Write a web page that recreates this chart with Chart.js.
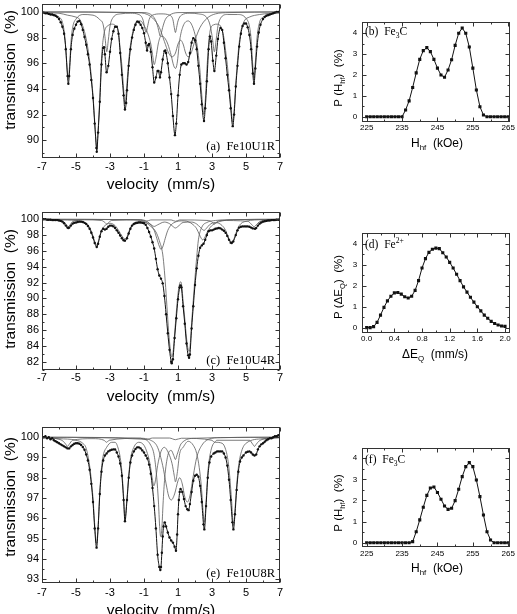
<!DOCTYPE html>
<html>
<head>
<meta charset="utf-8">
<script src="https://cdn.jsdelivr.net/npm/chart.js@4.4.1/dist/chart.umd.min.js"></script>
<style>
  body { margin: 0; background: #fff; width: 517px; height: 614px; position: relative; overflow: hidden; }
  canvas { position: absolute; }
</style>
</head>
<body>
<canvas id="specA" width="300" height="200" style="left:0;top:0"></canvas>
<canvas id="specC" width="300" height="210" style="left:0;top:200px"></canvas>
<canvas id="specE" width="300" height="214" style="left:0;top:400px"></canvas>
<canvas id="distB" width="217" height="200" style="left:300px;top:0"></canvas>
<canvas id="distD" width="217" height="200" style="left:300px;top:200px"></canvas>
<canvas id="distF" width="217" height="214" style="left:300px;top:400px"></canvas>
<script>
// ---- tick values / labels ----
const velTicks = [-7, -5, -3, -1, 1, 3, 5, 7];
const velLabels = ['-7', '-5', '-3', '-1', '1', '3', '5', '7'];
const velMinor = [-6, -4, -2, 0, 2, 4, 6];
const transTicksA = [90, 92, 94, 96, 98, 100];
const transMinorA = [89, 91, 93, 95, 97, 99];
const transTicksC = [82, 84, 86, 88, 90, 92, 94, 96, 98, 100];
const transMinorC = [81, 83, 85, 87, 89, 91, 93, 95, 97, 99];
const transTicksE = [93, 94, 95, 96, 97, 98, 99, 100];
const transMinorE = [93.5, 94.5, 95.5, 96.5, 97.5, 98.5, 99.5];
const fieldTicks = [225, 235, 245, 255, 265];
const fieldMinor = [230, 240, 250, 260];
const splitTicks = [0, 0.4, 0.8, 1.2, 1.6, 2.0];
const splitLabels = ['0.0', '0.4', '0.8', '1.2', '1.6', '2.0'];
const splitMinor = [0.2, 0.6, 1.0, 1.4, 1.8];
const probTicks = [0, 1, 2, 3, 4];
const probMinor = [0.5, 1.5, 2.5, 3.5];

// ---- (a) Fe10U1R : [velocity, transmission] ----
const envA = [[-7.0,100.0],[-6.9,99.95],[-6.8,99.9],[-6.7,99.9],[-6.6,99.85],[-6.5,99.8],[-6.4,99.8],[-6.3,99.75],[-6.2,99.7],[-6.1,99.6],[-6.0,99.45],[-5.9,99.2],[-5.8,98.85],[-5.7,98.3],[-5.6,97.1],[-5.5,95.0],[-5.45,94.4],[-5.4,95.0],[-5.3,97.1],[-5.2,98.2],[-5.1,98.7],[-5.0,99.0],[-4.9,99.25],[-4.8,99.3],[-4.7,99.05],[-4.6,98.6],[-4.5,98.05],[-4.4,97.45],[-4.3,96.7],[-4.2,95.9],[-4.1,94.7],[-4.0,93.3],[-3.9,91.3],[-3.8,89.4],[-3.78,89.1],[-3.7,90.6],[-3.6,93.0],[-3.5,95.9],[-3.4,97.2],[-3.35,97.25],[-3.3,96.7],[-3.2,95.3],[-3.1,95.8],[-3.0,96.9],[-2.9,97.9],[-2.8,98.5],[-2.7,98.85],[-2.6,98.85],[-2.5,98.3],[-2.4,96.8],[-2.3,95.1],[-2.2,93.5],[-2.12,92.4],[-2.05,92.9],[-2.0,93.9],[-1.9,95.8],[-1.8,97.1],[-1.7,98.0],[-1.6,98.6],[-1.5,99.0],[-1.4,99.25],[-1.3,99.2],[-1.2,99.0],[-1.1,98.75],[-1.0,98.35],[-0.9,97.6],[-0.82,97.0],[-0.75,97.4],[-0.7,97.5],[-0.6,96.9],[-0.5,95.7],[-0.4,94.5],[-0.3,94.9],[-0.2,95.4],[-0.15,95.4],[-0.06,94.9],[0.0,95.3],[0.1,96.3],[0.2,96.95],[0.25,97.0],[0.3,96.8],[0.4,96.0],[0.5,94.9],[0.6,93.6],[0.7,91.9],[0.82,90.4],[0.9,91.3],[1.0,93.5],[1.1,95.1],[1.2,95.9],[1.3,96.0],[1.4,96.0],[1.5,95.9],[1.6,96.1],[1.7,96.8],[1.8,97.6],[1.9,97.95],[2.0,97.8],[2.1,97.1],[2.2,95.8],[2.3,94.4],[2.4,92.8],[2.53,91.5],[2.6,92.5],[2.7,94.6],[2.8,97.1],[2.88,98.1],[2.95,97.7],[3.05,96.2],[3.14,95.4],[3.25,96.6],[3.35,97.9],[3.5,98.75],[3.6,98.6],[3.7,97.6],[3.8,96.4],[3.9,95.1],[4.0,93.9],[4.1,92.5],[4.22,91.1],[4.3,92.0],[4.4,94.2],[4.5,95.8],[4.6,97.3],[4.7,98.3],[4.8,98.9],[4.9,99.1],[5.0,99.1],[5.1,98.8],[5.2,98.2],[5.3,97.1],[5.4,95.2],[5.47,94.4],[5.55,95.6],[5.65,97.3],[5.75,98.4],[5.85,99.0],[6.0,99.45],[6.1,99.6],[6.2,99.7],[6.3,99.75],[6.4,99.8],[6.5,99.85],[6.6,99.9],[6.7,99.95],[6.8,100.0],[6.9,100.0],[7.0,100.05]];
const alphaA = [[-7,99.95],[-6.5,99.85],[-6.0,99.6],[-5.8,99.2],[-5.65,98.0],[-5.55,96.1],[-5.45,94.8],[-5.38,95.8],[-5.28,97.9],[-5.18,98.9],[-5.0,99.45],[-4.6,99.8],[-4.0,99.75],[-3.6,99.4],[-3.4,99.0],[-3.3,98.1],[-3.19,96.9],[-3.1,97.8],[-3.0,98.9],[-2.8,99.6],[-2.4,99.85],[-1.8,99.9],[-1.3,99.8],[-1.05,99.35],[-0.95,98.7],[-0.88,98.4],[-0.8,98.8],[-0.7,99.4],[-0.5,99.75],[0,99.85],[0.5,99.75],[0.7,99.4],[0.78,98.8],[0.85,98.4],[0.92,98.8],[1.0,99.3],[1.2,99.75],[1.7,99.9],[2.2,99.85],[2.7,99.55],[2.9,98.9],[3.03,97.9],[3.14,96.9],[3.25,97.9],[3.35,98.9],[3.5,99.5],[3.9,99.8],[4.5,99.8],[5.0,99.5],[5.2,98.9],[5.3,97.9],[5.4,95.8],[5.47,94.8],[5.55,96.1],[5.65,98.0],[5.8,99.2],[6.0,99.6],[6.5,99.85],[7,99.95]];
const fe3cA = [[-7,99.95],[-6.0,99.9],[-5.5,99.75],[-5.0,99.6],[-4.8,99.45],[-4.6,98.9],[-4.4,97.9],[-4.2,96.2],[-4.0,93.5],[-3.9,91.5],[-3.78,89.4],[-3.7,90.8],[-3.6,93.4],[-3.5,96.4],[-3.4,97.9],[-3.3,98.6],[-3.1,98.95],[-2.9,99.05],[-2.7,98.95],[-2.5,98.4],[-2.4,97.1],[-2.3,95.8],[-2.2,94.0],[-2.12,92.8],[-2.0,94.5],[-1.9,96.2],[-1.8,97.4],[-1.6,98.75],[-1.4,99.3],[-1.2,99.3],[-1.0,98.95],[-0.8,98.4],[-0.6,97.5],[-0.5,96.7],[-0.4,95.9],[-0.3,96.4],[-0.15,97.6],[0.0,98.1],[0.2,98.0],[0.4,97.5],[0.6,96.6],[0.75,95.8],[0.85,95.6],[0.95,96.0],[1.1,97.8],[1.3,98.9],[1.6,99.3],[1.9,98.7],[2.1,97.6],[2.2,96.6],[2.3,95.3],[2.4,93.5],[2.53,92.0],[2.6,93.0],[2.7,95.5],[2.8,97.5],[2.9,98.6],[3.1,99.0],[3.3,99.05],[3.5,98.9],[3.7,98.0],[3.8,97.0],[3.9,95.9],[4.0,94.5],[4.1,92.9],[4.22,91.4],[4.3,92.3],[4.4,94.4],[4.5,96.2],[4.6,97.6],[4.7,98.5],[4.9,99.3],[5.2,99.6],[5.8,99.8],[7,99.95]];
const doubletA = [[-7,100],[-1.5,99.95],[-0.8,99.8],[-0.4,99.4],[-0.1,98.8],[0.2,97.7],[0.45,96.8],[0.65,96.5],[0.85,96.8],[1.0,97.5],[1.15,97.8],[1.3,97.5],[1.45,96.8],[1.6,96.5],[1.8,96.9],[2.0,97.8],[2.3,98.8],[2.7,99.5],[3.2,99.85],[4,99.95],[7,100]];
const singletA = [[-7,100],[-1.0,99.95],[-0.5,99.7],[-0.3,99.3],[-0.18,98.8],[-0.1,98.35],[-0.05,98.1],[0.0,98.25],[0.1,98.8],[0.25,99.4],[0.5,99.75],[1.0,99.95],[7,100]];

// ---- (c) Fe10U4R ----
const envC = [[-7.0,100.0],[-6.9,100.0],[-6.8,100.0],[-6.7,99.95],[-6.6,99.95],[-6.5,99.95],[-6.4,99.9],[-6.3,99.9],[-6.2,99.9],[-6.1,99.9],[-6.0,99.85],[-5.9,99.8],[-5.8,99.7],[-5.7,99.5],[-5.6,99.2],[-5.5,98.95],[-5.45,98.9],[-5.4,98.95],[-5.3,99.2],[-5.2,99.45],[-5.1,99.55],[-5.0,99.6],[-4.9,99.65],[-4.8,99.7],[-4.7,99.7],[-4.6,99.65],[-4.5,99.55],[-4.4,99.4],[-4.3,99.15],[-4.2,98.8],[-4.1,98.3],[-4.0,97.7],[-3.9,97.0],[-3.78,96.5],[-3.7,96.9],[-3.6,97.8],[-3.5,98.5],[-3.4,98.8],[-3.3,98.7],[-3.2,98.8],[-3.1,99.05],[-3.0,99.2],[-2.9,99.2],[-2.8,99.1],[-2.7,98.9],[-2.6,98.6],[-2.5,98.3],[-2.4,97.95],[-2.3,97.6],[-2.2,97.35],[-2.12,97.3],[-2.0,97.6],[-1.9,98.2],[-1.8,98.8],[-1.7,99.2],[-1.6,99.4],[-1.5,99.5],[-1.4,99.55],[-1.3,99.6],[-1.2,99.6],[-1.1,99.55],[-1.0,99.5],[-0.9,99.3],[-0.8,98.9],[-0.7,98.4],[-0.6,97.8],[-0.5,97.1],[-0.4,96.3],[-0.3,95.0],[-0.2,93.7],[-0.1,92.9],[0.0,92.5],[0.1,91.9],[0.2,90.3],[0.3,88.0],[0.4,85.6],[0.5,83.5],[0.6,82.0],[0.63,81.8],[0.7,82.3],[0.8,85.0],[0.9,87.5],[1.0,89.9],[1.1,91.4],[1.15,91.65],[1.2,91.4],[1.3,89.0],[1.4,86.8],[1.5,84.3],[1.6,82.8],[1.65,82.5],[1.7,82.9],[1.8,86.2],[1.9,89.0],[2.0,91.7],[2.1,93.8],[2.2,95.4],[2.3,96.4],[2.4,96.7],[2.5,96.9],[2.6,97.4],[2.7,98.0],[2.8,98.5],[2.9,98.6],[3.0,98.6],[3.1,98.7],[3.2,98.8],[3.3,98.85],[3.4,98.9],[3.5,98.85],[3.6,98.7],[3.7,98.55],[3.8,98.3],[3.9,97.9],[4.0,97.4],[4.1,97.05],[4.16,97.0],[4.25,97.2],[4.4,98.0],[4.5,98.6],[4.6,98.95],[4.7,99.05],[4.8,99.1],[4.9,99.1],[5.0,99.1],[5.1,99.1],[5.2,99.05],[5.3,98.95],[5.4,98.85],[5.53,98.8],[5.6,98.9],[5.7,99.2],[5.8,99.45],[5.9,99.6],[6.0,99.7],[6.1,99.75],[6.2,99.8],[6.3,99.85],[6.4,99.85],[6.5,99.9],[6.6,99.9],[6.7,99.9],[6.8,99.95],[6.9,99.95],[7.0,99.95]];
const mainDoubletC = [[-7,100],[-2.0,99.95],[-1.2,99.85],[-0.9,99.6],[-0.6,99.1],[-0.3,98.4],[-0.1,97.3],[0.1,95.6],[0.2,93.5],[0.3,90.6],[0.4,87.3],[0.5,84.5],[0.6,82.8],[0.63,82.6],[0.7,83.0],[0.8,85.5],[0.9,88.2],[1.0,90.6],[1.1,91.9],[1.15,92.1],[1.2,91.9],[1.3,89.7],[1.4,87.4],[1.5,85.0],[1.6,83.5],[1.65,83.3],[1.7,83.7],[1.8,86.8],[1.9,89.8],[2.0,92.6],[2.1,95.2],[2.2,97.4],[2.4,99.0],[2.7,99.6],[3.2,99.85],[4.0,99.95],[7,100]];
const sideDoubletC = [[-7,100],[-1.2,99.95],[-0.8,99.7],[-0.6,99.3],[-0.4,98.6],[-0.25,97.6],[-0.1,96.6],[0.0,96.2],[0.1,96.5],[0.25,97.6],[0.4,98.6],[0.6,99.3],[0.9,99.7],[1.2,99.8],[1.6,99.7],[1.9,99.3],[2.1,98.8],[2.25,98.1],[2.38,97.55],[2.45,97.4],[2.55,97.6],[2.7,98.3],[2.9,99.0],[3.2,99.5],[3.6,99.8],[4.2,99.95],[7,100]];
const fe3cC = [[-7,99.98],[-5.5,99.9],[-4.6,99.7],[-4.3,99.3],[-4.1,98.5],[-4.0,97.9],[-3.9,97.2],[-3.78,96.7],[-3.7,97.1],[-3.6,97.9],[-3.5,98.6],[-3.3,99.2],[-3.0,99.5],[-2.7,99.2],[-2.5,98.6],[-2.3,97.9],[-2.12,97.5],[-2.0,97.8],[-1.9,98.4],[-1.7,99.3],[-1.3,99.7],[-0.9,99.6],[-0.6,99.35],[-0.4,99.1],[-0.2,99.3],[0.2,99.65],[0.5,99.45],[0.7,99.1],[0.85,98.9],[1.0,99.1],[1.3,99.6],[1.8,99.65],[2.1,99.4],[2.3,99.0],[2.45,98.7],[2.53,98.6],[2.65,98.8],[2.85,99.3],[3.2,99.6],[3.6,99.2],[3.8,98.6],[3.95,97.8],[4.08,97.25],[4.16,97.1],[4.25,97.3],[4.4,98.2],[4.6,99.2],[5.0,99.75],[6.0,99.95],[7,100]];
const alphaC = [[-7,99.98],[-6.0,99.9],[-5.7,99.65],[-5.55,99.3],[-5.45,99.05],[-5.35,99.3],[-5.2,99.7],[-4.5,99.93],[-3.5,99.85],[-3.3,99.6],[-3.19,99.4],[-3.08,99.6],[-2.9,99.85],[-1.2,99.93],[-0.88,99.75],[-0.6,99.92],[0.6,99.92],[0.85,99.75],[1.1,99.92],[2.8,99.85],[3.03,99.6],[3.14,99.4],[3.25,99.6],[3.45,99.85],[5.1,99.75],[5.35,99.3],[5.47,99.05],[5.6,99.3],[5.8,99.7],[6.2,99.9],[7,99.98]];

// ---- (e) Fe10U8R ----
const envE = [[-7.0,100.05],[-6.9,100.0],[-6.8,100.05],[-6.7,99.95],[-6.6,100.0],[-6.5,99.9],[-6.4,99.95],[-6.3,99.85],[-6.2,99.8],[-6.1,99.75],[-6.0,99.7],[-5.9,99.65],[-5.8,99.6],[-5.7,99.55],[-5.6,99.5],[-5.5,99.45],[-5.4,99.45],[-5.3,99.55],[-5.2,99.62],[-5.1,99.68],[-5.0,99.7],[-4.9,99.7],[-4.8,99.68],[-4.7,99.62],[-4.6,99.52],[-4.5,99.38],[-4.4,99.15],[-4.3,98.85],[-4.2,98.4],[-4.1,97.7],[-4.0,96.8],[-3.9,95.5],[-3.79,94.55],[-3.7,95.5],[-3.6,97.2],[-3.5,98.3],[-3.4,98.85],[-3.3,99.1],[-3.2,99.2],[-3.1,99.3],[-3.0,99.35],[-2.9,99.38],[-2.8,99.4],[-2.7,99.4],[-2.6,99.25],[-2.5,99.05],[-2.4,98.7],[-2.3,98.1],[-2.2,96.9],[-2.12,95.85],[-2.0,96.9],[-1.9,98.0],[-1.8,98.75],[-1.7,99.1],[-1.6,99.3],[-1.5,99.42],[-1.4,99.5],[-1.3,99.5],[-1.2,99.45],[-1.1,99.35],[-1.0,99.25],[-0.9,99.1],[-0.8,98.95],[-0.7,98.65],[-0.6,98.2],[-0.5,97.5],[-0.4,96.6],[-0.3,95.5],[-0.2,94.2],[-0.1,93.6],[-0.04,93.45],[0.0,93.6],[0.05,94.3],[0.1,95.1],[0.15,95.6],[0.22,95.8],[0.3,95.6],[0.4,95.3],[0.5,95.05],[0.6,94.9],[0.7,94.8],[0.8,94.6],[0.88,94.4],[0.95,95.2],[1.0,96.2],[1.05,96.9],[1.1,97.3],[1.15,97.45],[1.25,97.3],[1.35,96.95],[1.45,96.6],[1.55,96.45],[1.62,96.4],[1.7,96.7],[1.8,97.3],[1.9,97.85],[2.0,98.1],[2.1,98.15],[2.2,98.05],[2.3,97.6],[2.4,96.8],[2.5,95.7],[2.55,95.45],[2.65,96.6],[2.75,98.0],[2.85,98.75],[2.95,99.05],[3.1,99.2],[3.2,99.25],[3.3,99.3],[3.4,99.3],[3.5,99.3],[3.6,99.3],[3.7,99.2],[3.8,99.0],[3.9,98.6],[4.0,97.9],[4.1,96.9],[4.2,95.8],[4.26,95.45],[4.35,96.2],[4.45,97.4],[4.55,98.3],[4.65,98.8],[4.75,99.0],[4.85,99.1],[5.0,99.25],[5.1,99.28],[5.2,99.3],[5.3,99.25],[5.4,99.15],[5.5,99.1],[5.6,99.15],[5.7,99.4],[5.8,99.55],[5.9,99.65],[6.0,99.7],[6.1,99.78],[6.2,99.85],[6.3,99.9],[6.4,99.95],[6.5,99.95],[6.6,100.0],[6.7,100.05],[6.8,100.05],[6.9,100.1],[7.0,100.1]];
const fe3cE = [[-7,99.98],[-6.0,99.93],[-5.0,99.85],[-4.6,99.7],[-4.4,99.45],[-4.2,98.6],[-4.1,97.9],[-4.0,97.0],[-3.9,95.7],[-3.79,94.75],[-3.7,95.6],[-3.6,97.3],[-3.5,98.5],[-3.4,99.1],[-3.2,99.5],[-2.9,99.75],[-2.7,99.75],[-2.5,99.4],[-2.4,99.0],[-2.3,98.3],[-2.2,97.1],[-2.12,96.0],[-2.0,97.0],[-1.9,98.1],[-1.8,98.9],[-1.6,99.5],[-1.3,99.75],[-1.0,99.6],[-0.8,99.2],[-0.65,98.7],[-0.52,98.0],[-0.42,97.6],[-0.32,97.9],[-0.2,98.6],[0.0,99.3],[0.2,99.5],[0.45,99.2],[0.65,98.7],[0.78,98.1],[0.85,97.8],[0.95,98.2],[1.1,99.2],[1.3,99.5],[1.6,99.8],[1.9,99.6],[2.1,99.2],[2.25,98.5],[2.38,97.5],[2.47,96.4],[2.55,95.8],[2.65,96.8],[2.75,98.2],[2.9,99.2],[3.2,99.75],[3.6,99.7],[3.8,99.4],[3.95,98.8],[4.05,98.0],[4.15,96.9],[4.26,95.65],[4.35,96.4],[4.45,97.6],[4.55,98.5],[4.7,99.2],[5.0,99.7],[6.0,99.93],[7,99.98]];
const doubletE = [[-7,100],[-1.2,99.95],[-0.6,99.85],[-0.2,99.5],[0.1,98.6],[0.3,97.7],[0.45,97.1],[0.6,96.9],[0.8,97.2],[1.0,97.85],[1.1,98.0],[1.25,97.7],[1.4,97.05],[1.55,96.8],[1.7,97.1],[1.9,98.1],[2.1,99.0],[2.4,99.6],[2.8,99.9],[3.5,99.98],[7,100]];
const singletE = [[-7,100],[-1.0,99.9],[-0.6,99.6],[-0.4,99.1],[-0.25,98.0],[-0.15,96.8],[-0.08,95.6],[-0.02,95.1],[0.05,95.5],[0.12,96.7],[0.22,98.0],[0.4,99.1],[0.6,99.35],[0.75,99.1],[0.85,98.9],[0.95,99.15],[1.2,99.7],[2.0,99.95],[7,100]];
const alphaE = [[-7,99.98],[-6.0,99.9],[-5.75,99.8],[-5.6,99.65],[-5.5,99.55],[-5.4,99.65],[-5.2,99.85],[-4.0,99.93],[-3.35,99.85],[-3.2,99.75],[-3.05,99.85],[-1.2,99.95],[-0.88,99.88],[-0.5,99.96],[0.5,99.96],[0.85,99.88],[1.2,99.95],[3.0,99.85],[3.14,99.75],[3.28,99.85],[5.2,99.85],[5.4,99.65],[5.5,99.55],[5.6,99.65],[5.75,99.8],[6.0,99.9],[7,99.98]];

// ---- distributions (b), (d), (f) ----
const hfField = [225,226,227,228,229,230,231,232,233,234,235,236,237,238,239,240,241,242,243,244,245,246,247,248,249,250,251,252,253,254,255,256,257,258,259,260,261,262,263,264,265];
const probB = [0,0,0,0,0,0,0,0,0,0,0,0.32,0.76,1.4,2.1,2.75,3.17,3.31,3.12,2.75,2.33,2.0,1.89,2.24,2.73,3.42,4.0,4.25,4.0,3.34,2.33,1.28,0.48,0.08,0,0,0,0,0,0,0];
const probF = [0,0,0,0,0,0,0,0,0,0,0,0,0,0.05,0.52,1.08,1.68,2.24,2.59,2.64,2.38,2.06,1.74,1.58,1.63,1.99,2.53,3.13,3.6,3.79,3.6,2.97,2.18,1.31,0.52,0.13,0,0,0,0,0];
const quadSplit = [0,0.05,0.1,0.15,0.2,0.25,0.3,0.35,0.4,0.45,0.5,0.55,0.6,0.65,0.7,0.75,0.8,0.85,0.9,0.95,1.0,1.05,1.1,1.15,1.2,1.25,1.3,1.35,1.4,1.45,1.5,1.55,1.6,1.65,1.7,1.75,1.8,1.85,1.9,1.95,2.0];
const probD = [0,0,0.05,0.25,0.6,0.97,1.28,1.5,1.66,1.68,1.6,1.48,1.42,1.5,1.78,2.25,2.85,3.3,3.6,3.75,3.8,3.78,3.58,3.38,3.12,2.85,2.55,2.25,1.95,1.7,1.45,1.22,1.0,0.8,0.6,0.45,0.3,0.2,0.13,0.08,0.06];

const SANS = 'Arial, "Liberation Sans", sans-serif';
const SERIF = '"Times New Roman", "Liberation Serif", serif';
Chart.defaults.font.family = SANS;
Chart.defaults.color = '#000';

// text with sub/superscripts: parts = [[text, 0|1(sub)|2(sup)], ...]
function drawRich(ctx, parts, x, y, size, family, align) {
  const pieces = parts.map(p => {
    const s = p[1] ? size * 0.66 : size;
    ctx.font = s + 'px ' + family;
    return { t: p[0], k: p[1] || 0, s: s, w: ctx.measureText(p[0]).width };
  });
  const total = pieces.reduce((a, p) => a + p.w, 0);
  let cx = align === 'center' ? x - total / 2 : align === 'right' ? x - total : x;
  pieces.forEach(p => {
    ctx.font = p.s + 'px ' + family;
    const dy = p.k === 1 ? size * 0.3 : p.k === 2 ? -size * 0.4 : 0;
    ctx.fillText(p.t, cx, y + dy);
    cx += p.w;
  });
}

// boxed frame with inward ticks on all four sides
const framePlugin = {
  id: 'frame',
  afterDatasetsDraw(chart, args, o) {
    const { ctx, chartArea: a, scales: { x, y } } = chart;
    const L = Math.round(a.left) + 0.5, R = Math.round(a.right) - 0.5;
    const T = Math.round(a.top) + 0.5, B = Math.round(a.bottom) - 0.5;
    ctx.save();
    ctx.strokeStyle = '#333';
    ctx.lineWidth = 1;
    ctx.strokeRect(L, T, R - L, B - T);
    ctx.beginPath();
    const xt = (vals, len) => vals.forEach(v => {
      const p = Math.round(x.getPixelForValue(v)) + 0.5;
      ctx.moveTo(p, B); ctx.lineTo(p, B - len);
      ctx.moveTo(p, T); ctx.lineTo(p, T + len);
    });
    const yt = (vals, len) => vals.forEach(v => {
      const p = Math.round(y.getPixelForValue(v)) + 0.5;
      ctx.moveTo(L, p); ctx.lineTo(L + len, p);
      ctx.moveTo(R, p); ctx.lineTo(R - len, p);
    });
    xt(o.xMajor, 4); xt(o.xMinor, 2);
    yt(o.yMajor, 4); yt(o.yMinor, 2);
    ctx.stroke();
    ctx.restore();
  }
};

// axis titles and panel labels (page coordinates, shifted by canvas offset)
const textPlugin = {
  id: 'texts',
  afterDraw(chart, args, o) {
    const ctx = chart.ctx;
    ctx.save();
    ctx.fillStyle = '#000';
    o.items.forEach(it => {
      ctx.textBaseline = it.base || 'middle';
      const px = it.x - o.dx, py = it.y - o.dy;
      if (it.rot) {
        ctx.save();
        ctx.translate(px, py);
        ctx.rotate(-Math.PI / 2);
        drawRich(ctx, it.parts, 0, 0, it.size, it.family || SANS, 'center');
        ctx.restore();
      } else {
        drawRich(ctx, it.parts, px, py, it.size, it.family || SANS, it.align || 'center');
      }
    });
    ctx.restore();
  }
};

function makeChart(id, s) {
  const datasets = s.series.map(d => ({
    data: d.pts.map(p => ({ x: p[0], y: p[1] })),
    showLine: true,
    borderColor: d.color,
    borderWidth: d.width,
    pointRadius: d.radius || 0,
    pointStyle: d.style || 'circle',
    pointBackgroundColor: d.color,
    pointBorderWidth: 0,
    cubicInterpolationMode: d.smooth ? 'monotone' : 'default',
    tension: 0
  }));
  new Chart(document.getElementById(id), {
    type: 'scatter',
    data: { datasets },
    plugins: [framePlugin, textPlugin],
    options: {
      responsive: false,
      animation: false,
      events: [],
      layout: { padding: { left: 0, top: s.padTop, right: s.padRight, bottom: 0 } },
      plugins: {
        legend: { display: false },
        tooltip: { enabled: false },
        frame: { xMajor: s.xTicks, xMinor: s.xMinor, yMajor: s.yTicks, yMinor: s.yMinor },
        texts: { items: s.texts, dx: s.dx, dy: s.dy }
      },
      scales: {
        x: {
          type: 'linear', min: s.xMin, max: s.xMax,
          grid: { display: false, drawTicks: false },
          border: { display: false },
          ticks: { font: { size: s.tickSize }, padding: s.xPad, autoSkip: false, maxRotation: 0,
                   callback: (v, i) => s.xLabels[i] },
          afterBuildTicks: sc => { sc.ticks = s.xTicks.map(v => ({ value: v })); },
          afterFit: sc => { sc.height = s.xHeight; sc.paddingLeft = 0; sc.paddingRight = 0; sc.paddingTop = 0; sc.paddingBottom = 0; }
        },
        y: {
          type: 'linear', min: s.yMin, max: s.yMax,
          grid: { display: false, drawTicks: false },
          border: { display: false },
          ticks: { font: { size: s.tickSize }, padding: s.yPad, autoSkip: false,
                   callback: (v, i) => String(s.yTicks[i]) },
          afterBuildTicks: sc => { sc.ticks = s.yTicks.map(v => ({ value: v })); },
          afterFit: sc => { sc.width = s.yWidth; sc.paddingLeft = 0; sc.paddingRight = 0; sc.paddingTop = 0; sc.paddingBottom = 0; }
        }
      }
    }
  });
}

const dataStyle = { color: '#111', width: 1, radius: 1.2, smooth: true };
const compStyle = { color: '#5a5a5a', width: 0.8, smooth: true };
const envSeries = pts => Object.assign({ pts }, dataStyle);
const compSeries = pts => Object.assign({ pts }, compStyle);
const distSeries = pts => ({ pts, color: '#111', width: 1, radius: 2.2, style: 'rect' });
const transTitle = [['transmission  (%)']];
const velTitle = [['velocity  (mm/s)']];

// left column: Mössbauer spectra
const specCommon = { xMin: -7, xMax: 7, xTicks: velTicks, xLabels: velLabels, xMinor: velMinor,
                     tickSize: 11, yPad: 3, yWidth: 42, padRight: 20, dx: 0 };

makeChart('specA', Object.assign({}, specCommon, {
  dy: 0, padTop: 2, xHeight: 42, xPad: 2.4, yMin: 88.62, yMax: 100.62,
  yTicks: transTicksA, yMinor: transMinorA,
  series: [envSeries(envA), compSeries(alphaA), compSeries(fe3cA), compSeries(doubletA), compSeries(singletA)],
  texts: [
    { parts: transTitle, x: 11, y: 70, size: 15.5, rot: true },
    { parts: velTitle, x: 161, y: 185, size: 15.5 },
    { parts: [['(a)  Fe10U1R']], x: 275, y: 150, size: 12.5, family: SERIF, align: 'right', base: 'alphabetic' }
  ]
}));

makeChart('specC', Object.assign({}, specCommon, {
  dy: 200, padTop: 11.7, xHeight: 40, xPad: 1.4, yMin: 80.95, yMax: 100.96,
  yTicks: transTicksC, yMinor: transMinorC,
  series: [envSeries(envC), compSeries(mainDoubletC), compSeries(sideDoubletC), compSeries(fe3cC), compSeries(alphaC)],
  texts: [
    { parts: transTitle, x: 11, y: 289, size: 15.5, rot: true },
    { parts: velTitle, x: 161, y: 397, size: 15.5 },
    { parts: [['(c)  Fe10U4R']], x: 275, y: 364, size: 12.5, family: SERIF, align: 'right', base: 'alphabetic' }
  ]
}));

makeChart('specE', Object.assign({}, specCommon, {
  dy: 400, padTop: 26.7, xHeight: 31.3, xPad: 3.2, yMin: 92.82, yMax: 100.52,
  yTicks: transTicksE, yMinor: transMinorE,
  series: [envSeries(envE), compSeries(fe3cE), compSeries(doubletE), compSeries(singletE), compSeries(alphaE)],
  texts: [
    { parts: transTitle, x: 11, y: 497, size: 15.5, rot: true },
    { parts: velTitle, x: 161, y: 611, size: 15.5 },
    { parts: [['(e)  Fe10U8R']], x: 275, y: 577, size: 12.5, family: SERIF, align: 'right', base: 'alphabetic' }
  ]
}));

// right column: distributions
const distCommon = { tickSize: 8, yPad: 4.5, yWidth: 61.7, padRight: 7, dx: 300,
                     yTicks: probTicks, yMinor: probMinor };
const hfTitle = [['H'], ['hf', 1], ['  (kOe)']];
const pHfTitle = [['P (H'], ['hf', 1], [')  (%)']];

makeChart('distB', Object.assign({}, distCommon, {
  dy: 0, padTop: 22, xHeight: 78.3, xPad: 1, xMin: 223.6, xMax: 265.5,
  xTicks: fieldTicks, xLabels: fieldTicks.map(String), xMinor: fieldMinor,
  yMin: -0.24, yMax: 4.54,
  series: [distSeries(hfField.map((h, i) => [h, probB[i]]))],
  texts: [
    { parts: pHfTitle, x: 339, y: 78, size: 11.5, rot: true },
    { parts: hfTitle, x: 437, y: 144, size: 12 },
    { parts: [['(b)  Fe'], ['3', 1], ['C']], x: 365, y: 35, size: 11.5, family: SERIF, align: 'left', base: 'alphabetic' }
  ]
}));

makeChart('distD', Object.assign({}, distCommon, {
  dy: 200, padTop: 33.3, xHeight: 66.7, xPad: 0.5, xMin: -0.072, xMax: 2.072,
  xTicks: splitTicks, xLabels: splitLabels, xMinor: splitMinor,
  yMin: -0.27, yMax: 4.51,
  series: [distSeries(quadSplit.map((q, i) => [q, probD[i]]))],
  texts: [
    { parts: [['P (\u0394E'], ['Q', 1], [')  (%)']], x: 339, y: 287, size: 11.5, rot: true },
    { parts: [['\u0394E'], ['Q', 1], ['  (mm/s)']], x: 435, y: 355, size: 12 },
    { parts: [['(d)  Fe'], ['2+', 2]], x: 365, y: 248, size: 11.5, family: SERIF, align: 'left', base: 'alphabetic' }
  ]
}));

makeChart('distF', Object.assign({}, distCommon, {
  dy: 400, padTop: 48.3, xHeight: 67.3, xPad: 2.5, xMin: 223.6, xMax: 265.5,
  xTicks: fieldTicks, xLabels: fieldTicks.map(String), xMinor: fieldMinor,
  yMin: -0.19, yMax: 4.47,
  series: [distSeries(hfField.map((h, i) => [h, probF[i]]))],
  texts: [
    { parts: pHfTitle, x: 339, y: 503, size: 11.5, rot: true },
    { parts: hfTitle, x: 437, y: 569, size: 12 },
    { parts: [['(f)  Fe'], ['3', 1], ['C']], x: 365, y: 463, size: 11.5, family: SERIF, align: 'left', base: 'alphabetic' }
  ]
}));
</script>
</body>
</html>
